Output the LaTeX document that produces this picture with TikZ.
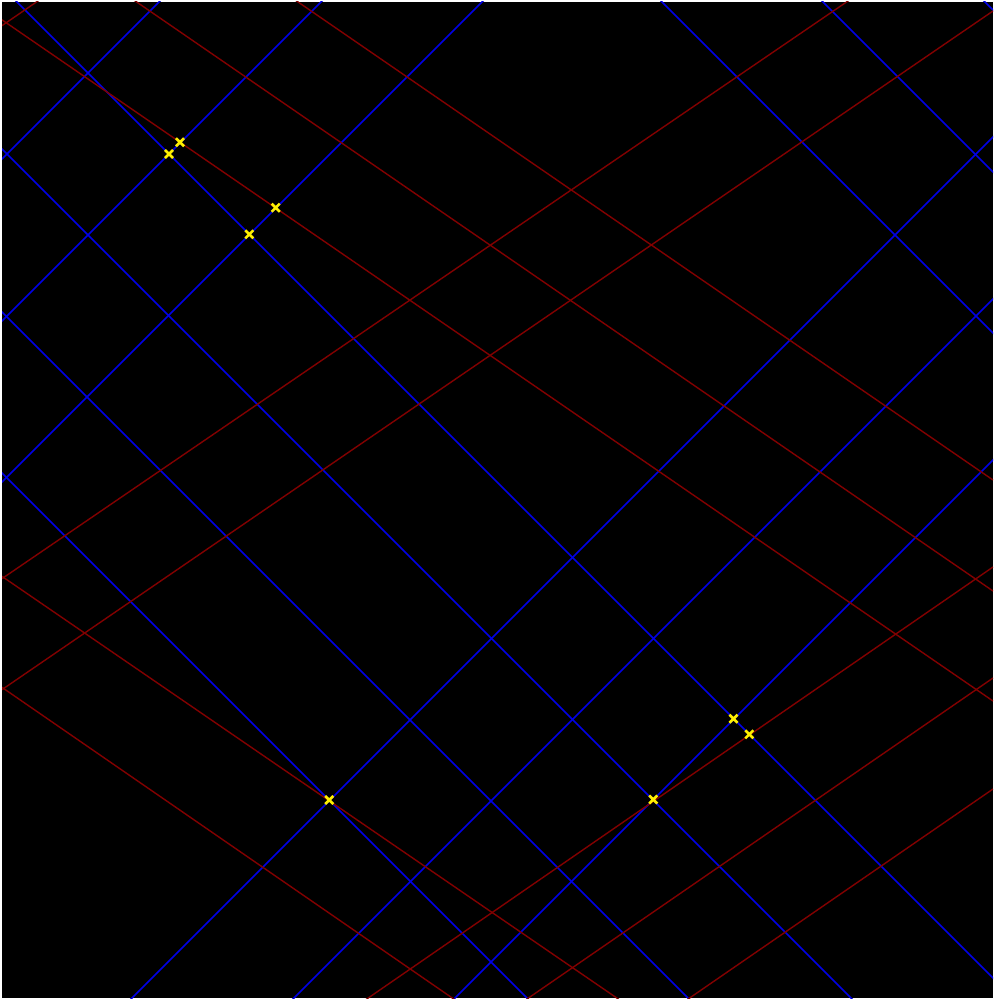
\documentclass[tikz,border=0pt]{standalone}
\usetikzlibrary{shapes.misc}

\definecolor{railblue}{RGB}{0,0,230}
\definecolor{raildark}{RGB}{130,0,0}
\definecolor{hityellow}{RGB}{255,240,0}

\begin{document}
\begin{tikzpicture}[x=1pt, y=-1pt]
	\tikzset{
		bluerail/.style={railblue, line width=1.7pt},
		redrail/.style={raildark, line width=1.4pt},
		hit/.style={cross out, draw=hityellow, line width=2.6pt, minimum size=5.5pt, inner sep=0pt}
	}
	\useasboundingbox (0,0) rectangle (993,1000);
	\fill[white] (0,0) rectangle (993,1000);
	\fill[black] (2,2) rectangle (993,998);
	
	\begin{scope}
		\clip (2,2) rectangle (993,998);
		% blaue Geraden, fallend
		\foreach \c in {-983,-821,-660,-15,147,310,471}
			\draw[bluerail] (0,\c) -- (1000,1000+\c);
		% blaue Geraden, steigend
		\foreach \d in {161,323,484,1130,1292,1453}
			\draw[bluerail] (0,\d) -- (\d,0);
		% rote Geraden, fallend
		\foreach \ya/\yb in {18.5/701, -92/591, -203/480, 575/1256, 686/1371}
			\draw[redrail] (0,\ya) -- (993,\yb);
		% rote Geraden, steigend
		\foreach \ya/\yb in {27/-654, 580/-98, 691/11, 1252/567, 1362/678, 1473/789}
			\draw[redrail] (0,\ya) -- (993,\yb);
	\end{scope}
	
	% Schnittpunkte
	\node[hit] (p1) at (180,142.3) {};
	\node[hit] (p2) at (169,154) {};
	\node[hit] (p3) at (275.7,207.7) {};
	\node[hit] (p4) at (249.3,234.3) {};
	\node[hit] (p5) at (329.3,800) {};
	\node[hit] (p6) at (653.3,799.5) {};
	\node[hit] (p7) at (733.5,718.7) {};
	\node[hit] (p8) at (749.3,734.3) {};
\end{tikzpicture}
\end{document}
